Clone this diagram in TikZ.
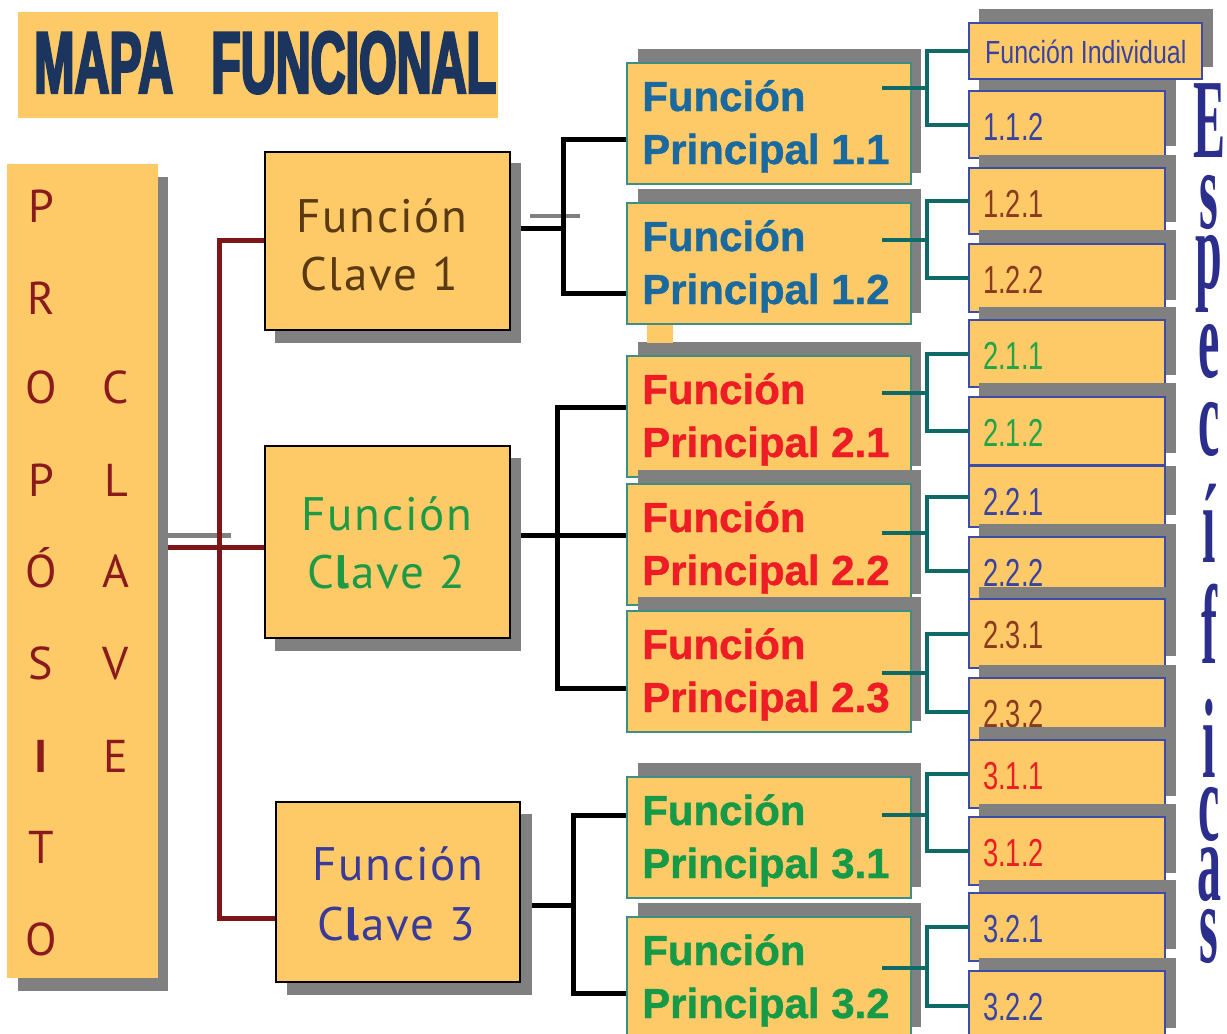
\documentclass[tikz,border=0pt]{standalone}
\usepackage{fontspec}
\setmainfont{Liberation Sans}
\newfontfamily\titlefont[FakeStretch=0.55,FakeBold=2.5]{Liberation Sans}
\newfontfamily\digfont[FakeStretch=0.7]{Liberation Sans}
\newfontfamily\fifont[FakeStretch=0.78]{Liberation Sans}
\newfontfamily\fpfont[FakeBold=1]{Liberation Sans}
\newfontfamily\clavefont[LetterSpace=4]{PT Sans}
\newfontfamily\propfont{PT Sans}
\newfontfamily\espfont{Liberation Serif}
\pgfdeclarelayer{bg}
\pgfsetlayers{bg,main}
\definecolor{ybox}{HTML}{FECA68}
\definecolor{shd}{HTML}{808080}
\definecolor{navy}{HTML}{1C355E}
\definecolor{propred}{HTML}{8B1A1E}
\definecolor{redline}{HTML}{7D1619}
\definecolor{tealline}{HTML}{0E6A66}
\definecolor{fpborder}{HTML}{3E8E84}
\definecolor{chborder}{HTML}{3C4CA8}
\definecolor{brownT}{HTML}{5A3A12}
\definecolor{greenT}{HTML}{1E9A46}
\definecolor{indigoT}{HTML}{3A3A98}
\definecolor{blueFP}{HTML}{1A6AA0}
\definecolor{redFP}{HTML}{EE1C24}
\definecolor{greenFP}{HTML}{169A48}
\definecolor{chBlue}{HTML}{3A44A0}
\definecolor{chBrown}{HTML}{8A3A1E}
\definecolor{chGreen}{HTML}{22A447}
\definecolor{chRed}{HTML}{EE1C24}
\definecolor{espBlue}{HTML}{2B2E8C}
\tikzset{
  rectbox/.style={inner sep=0pt, outer sep=0pt, fill=ybox},
  plainbox/.style={rectbox},
  fcbox/.style={rectbox, draw=black, line width=1.2pt},
  fpbox/.style={rectbox, draw=fpborder, line width=1.2pt},
  chbox/.style={rectbox, draw=chborder, line width=1.2pt},
  blk/.style={line width=5pt, black},
  rl/.style={line width=5pt, redline},
  tl/.style={line width=4pt, tealline},
  graybar/.style={line width=5pt, shd},
  titletext/.style={anchor=base west, inner sep=0pt, font=\titlefont\bfseries\fontsize{88}{88}\selectfont},
  proplet/.style={anchor=base, inner sep=0pt, text=propred, font=\propfont\fontsize{46}{46}\selectfont},
  fctext/.style={anchor=base, inner sep=0pt, font=\clavefont\fontsize{47}{47}\selectfont},
  fptext/.style={anchor=base west, inner sep=0pt, font=\fpfont\bfseries\fontsize{42}{42}\selectfont},
  chtext/.style={anchor=base west, inner sep=0pt, font=\digfont\fontsize{39}{39}\selectfont},
  esptext/.style={anchor=base, inner sep=0pt, font=\espfont\bfseries\fontsize{48}{48}\selectfont},
}
\newcommand\mkbox[6]{\node[#6, minimum width={(#4-#2)*1pt}, minimum height={(#5-#3)*1pt}] (#1) at ({(#2+#4)/2},{(#3+#5)/2}) {};}
\newcommand\bI{\textbf{I}}
\newcommand\bl{\textbf{l}}
\newcommand\espL[2]{\makebox[0pt]{\raisebox{-#2pt}{\scalebox{1}[2.35]{#1}}}}
\begin{document}
\begin{tikzpicture}[x=1pt,y=-1pt]
\useasboundingbox (0,0) rectangle (1227,1034);

% title
\mkbox{title}{18}{12}{498}{118}{plainbox}
\node[titletext, text=navy] (t1) at (34,93) {MAPA};
\node[titletext, text=navy] (t2) at (211,93) {FUNCIONAL};

% proposito clave
\fill[shd] (18,177) rectangle (168,991);
\mkbox{prop}{7}{164}{158}{978}{plainbox}
\foreach \nm/\lt/\xx/\yb in {p1/P/41/222, p2/R/41/314, p3/O/41/403, p4/P/41/496, p5/Ó/41/587, p6/S/41/679, p7/\bI/41/772, p8/T/41/863, p9/O/41/955, q1/C/116/403, q2/L/116/496, q3/A/116/587, q4/V/116/679, q5/E/116/772}
  {\node[proplet] (\nm) at (\xx,\yb) {\lt};}

% funciones clave
\fill[shd] (275,163) rectangle (521,343);
\mkbox{fc1}{265}{152}{510}{330}{fcbox}
\node[fctext, text=brownT] (fc1a) at (382,232) {Función};
\node[fctext, text=brownT] (fc1b) at (379,290) {Clave 1};
\fill[shd] (275,458) rectangle (521,651);
\mkbox{fc2}{265}{446}{510}{638}{fcbox}
\node[fctext, text=greenT] (fc2a) at (387,530) {Función};
\node[fctext, text=greenT] (fc2b) at (386,588) {C\bl ave 2};
\fill[shd] (287,814) rectangle (532,995);
\mkbox{fc3}{276}{802}{520}{982}{fcbox}
\node[fctext, text=indigoT] (fc3a) at (398,880) {Función};
\node[fctext, text=indigoT] (fc3b) at (396,940) {C\bl ave 3};

% funciones principales
\foreach \nm/\tp/\col/\num in {fp11/63/blueFP/1.1, fp12/203/blueFP/1.2, fp21/356/redFP/2.1, fp22/484/redFP/2.2, fp23/611/redFP/2.3, fp31/777/greenFP/3.1, fp32/917/greenFP/3.2} {
  \fill[shd] (638,\tp-14) rectangle (921,\tp+110);
  \mkbox{\nm}{627}{\tp}{911}{\tp+121}{fpbox}
  \node[fptext, text=\col] (\nm-a) at (642,\tp+48) {Función};
  \node[fptext, text=\col] (\nm-b) at (642,\tp+101) {Principal \num};
}
\mkbox{ysq}{647}{325}{673}{343}{plainbox}

% funciones individuales
\fill[shd] (979,9) rectangle (1213,67);
\mkbox{fi}{969}{23}{1202}{79}{chbox}
\node[anchor=base west, inner sep=0pt, text=chBlue, font=\fifont\fontsize{32}{32}\selectfont] (fi-t) at (985,63) {Función Individual};
\foreach \nm/\tp/\bt/\ts/\col/\lab in {c112/91/158/80/chBlue/1.1.2, c121/168/234/155/chBrown/1.2.1, c122/244/312/230/chBrown/1.2.2, c211/320/387/307/chGreen/2.1.1, c212/397/465/383/chGreen/2.1.2, c221/466/527/466/chBlue/2.2.1, c222/537/605/524/chBlue/2.2.2, c231/599/668/587/chBrown/2.3.1, c232/678/746/665/chBrown/2.3.2, c311/740/808/727/chRed/3.1.1, c312/817/885/804/chRed/3.1.2, c321/893/961/880/chBlue/3.2.1, c322/971/1040/958/chBlue/3.2.2} {
  \fill[shd] (979,\ts) rectangle (1176,\bt-12);
  \mkbox{\nm}{969}{\tp}{1165}{\bt}{chbox}
  \node[chtext, text=\col] (\nm-t) at (983,\tp+49) {\lab};
}

% teal connectors
\foreach \nm/\sy/\ca/\cb in {11/88/fi/c112, 12/240/c121/c122, 21/393/c211/c212, 22/533/c221/c222, 23/673/c231/c232, 31/815/c311/c312, 32/968/c321/c322} {
  \coordinate (s\nm) at (882,\sy);
  \coordinate (v\nm) at (927,\sy);
  \draw[tl] (s\nm) -- (v\nm);
  \draw[tl] (\ca.west) -| (v\nm) |- (\cb.west);
}

% Especificas (one vertical text)
\node[esptext, text=espBlue] (esp) at (1209,0) {\espL{E}{157}\espL{s}{228}\espL{p}{288}\espL{e}{377}\espL{c}{455}\espL{í}{562}\espL{f}{663}\espL{i}{777}\espL{c}{840}\espL{a}{900}\espL{s}{963}};

% background connectors
\begin{pgfonlayer}{bg}
  \fill[white] (0,0) rectangle (1227,1034);
  \coordinate (g1) at (168,535); \coordinate (g2) at (231,535);
  \draw[graybar] (g1) -- (g2);
  \coordinate (g3) at (530,216); \coordinate (g4) at (580,216);
  \draw[graybar, line width=4pt] (g3) -- (g4);
  \coordinate (r1) at (219,240); \coordinate (r2) at (219,547); \coordinate (r3) at (219,918);
  \draw[rl] (fc1.west |- r1) -- (r1) -- (r3) -- (fc3.west |- r3);
  \draw[rl] (prop.east |- r2) -- (fc2.west |- r2);
  \coordinate (k1) at (563,228); \coordinate (k11) at (563,139); \coordinate (k12) at (563,293);
  \draw[blk] (fc1.east |- k1) -- (k1);
  \draw[blk] (fp11.west |- k11) -- (k11) -- (k12) -- (fp12.west |- k12);
  \coordinate (k2) at (557,535); \coordinate (k21) at (557,407); \coordinate (k23) at (557,688);
  \draw[blk] (fc2.east |- k2) -- (fp22.west |- k2);
  \draw[blk] (fp21.west |- k21) -- (k21) -- (k23) -- (fp23.west |- k23);
  \coordinate (k3) at (573,905); \coordinate (k31) at (573,815); \coordinate (k32) at (573,993);
  \draw[blk] (fc3.east |- k3) -- (k3);
  \draw[blk] (fp31.west |- k31) -- (k31) -- (k32) -- (fp32.west |- k32);
\end{pgfonlayer}
\end{tikzpicture}
\end{document}
